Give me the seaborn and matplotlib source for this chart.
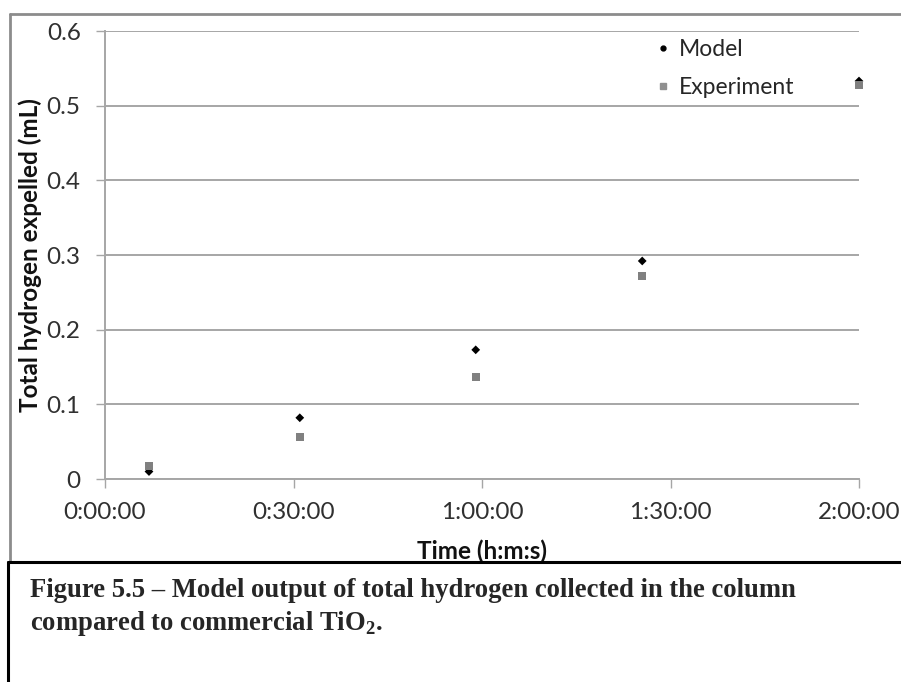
import matplotlib
matplotlib.use("Agg")
import matplotlib.pyplot as plt
from matplotlib.lines import Line2D
import seaborn as sns
import pandas as pd

# Elapsed time of each sample (minutes) and total hydrogen expelled (mL)
time_min = [7, 31, 59, 85.5, 120]
model_ml = [0.010, 0.082, 0.173, 0.292, 0.533]
experiment_ml = [0.017, 0.056, 0.137, 0.272, 0.528]

series_names = ["Model", "Experiment"]
x_ticks = [0, 30, 60, 90, 120]
x_tick_labels = ["0:00:00", "0:30:00", "1:00:00", "1:30:00", "2:00:00"]
y_ticks = [0, 0.1, 0.2, 0.3, 0.4, 0.5, 0.6]
y_tick_labels = ["0", "0.1", "0.2", "0.3", "0.4", "0.5", "0.6"]

caption_line1 = "Figure 5.5 \u2013 Model output of total hydrogen collected in the column"
caption_line2 = "compared to commercial TiO$_\\mathbf{2}$."

df = pd.concat([
    pd.DataFrame({"time": time_min, "hydrogen": model_ml, "series": series_names[0]}),
    pd.DataFrame({"time": time_min, "hydrogen": experiment_ml, "series": series_names[1]}),
], ignore_index=True)

sns.set_style("white")
plt.rcParams["font.family"] = ["Lato", "DejaVu Sans"]
plt.rcParams["mathtext.fontset"] = "custom"
plt.rcParams["mathtext.rm"] = "Liberation Serif"
plt.rcParams["mathtext.bf"] = "Liberation Serif:bold"

W, H = 901, 682
fig = plt.figure(figsize=(W / 100, H / 100), dpi=100)
fig.patch.set_facecolor("white")

def px_x(x):
    return x / W

def px_y(y):
    return 1 - y / H

ax = fig.add_axes([px_x(105), px_y(479), px_x(859) - px_x(105), px_y(31) - px_y(479)])

grid_col = "#a6a6a6"
palette = {"Model": "#000000", "Experiment": "#808080"}
markers = {"Model": "D", "Experiment": "s"}
sizes = {"Model": 20, "Experiment": 34}

for name in series_names:
    sub = df[df["series"] == name]
    sns.scatterplot(data=sub, x="time", y="hydrogen", ax=ax, color=palette[name],
                    marker=markers[name], s=sizes[name], edgecolor="none",
                    clip_on=False, zorder=3, legend=False)

ax.set_xlim(0, 120)
ax.set_ylim(0, 0.6)
ax.set_xticks(x_ticks)
ax.set_xticklabels(x_tick_labels)
ax.set_yticks(y_ticks)
ax.set_yticklabels(y_tick_labels)
ax.yaxis.grid(True, color=grid_col, linewidth=1.4)
ax.xaxis.grid(False)
ax.set_axisbelow(True)

for side in ["top", "right"]:
    ax.spines[side].set_visible(False)
for side in ["left", "bottom"]:
    ax.spines[side].set_color(grid_col)
    ax.spines[side].set_linewidth(1.4)

ax.tick_params(axis="both", which="both", direction="out", length=6.5, width=1.0,
               color=grid_col, labelsize=17.5, labelcolor="#303030", pad=11)
ax.tick_params(axis="x", bottom=True, pad=10)
ax.tick_params(axis="y", left=True)

ax.set_xlabel("Time (h:m:s)", fontsize=17.5, fontweight="bold", color="#111111")
ax.set_ylabel("Total hydrogen expelled (mL)", fontsize=17.5, fontweight="bold", color="#111111")
ax.xaxis.set_label_coords(0.5, -0.136)
ax.yaxis.set_label_coords(-0.084, 0.5)

handles = [
    Line2D([], [], linestyle="none", marker=".", markersize=7, color="#000000"),
    Line2D([], [], linestyle="none", marker="s", markersize=4.5, color="#909090"),
]
ax.legend(handles, series_names, frameon=False, loc="upper left",
          bbox_to_anchor=(px_x(647), px_y(30)), bbox_transform=fig.transFigure,
          fontsize=16.5, handlelength=0.6, handletextpad=0.4, labelspacing=0.72,
          borderaxespad=0)

# Chart frame (grey) and caption box (black)
frame_col = "#8c8c8c"
fig.add_artist(Line2D([px_x(10), px_x(10)], [px_y(14), px_y(562)], color=frame_col, lw=2.0,
                      transform=fig.transFigure))
fig.add_artist(Line2D([px_x(10), px_x(901)], [px_y(14), px_y(14)], color=frame_col, lw=2.0,
                      transform=fig.transFigure))
fig.add_artist(Line2D([px_x(8), px_x(8)], [px_y(562), px_y(682)], color="black", lw=2.2,
                      transform=fig.transFigure))
fig.add_artist(Line2D([px_x(8), px_x(901)], [px_y(562), px_y(562)], color="black", lw=2.2,
                      transform=fig.transFigure))

fig.text(px_x(30), px_y(597), caption_line1, fontsize=19.2, fontweight="bold",
         family="Liberation Serif", va="baseline", ha="left")
fig.text(px_x(30), px_y(630), caption_line2, fontsize=19.2, fontweight="bold",
         family="Liberation Serif", va="baseline", ha="left")

fig.savefig("out.png", dpi=100)
